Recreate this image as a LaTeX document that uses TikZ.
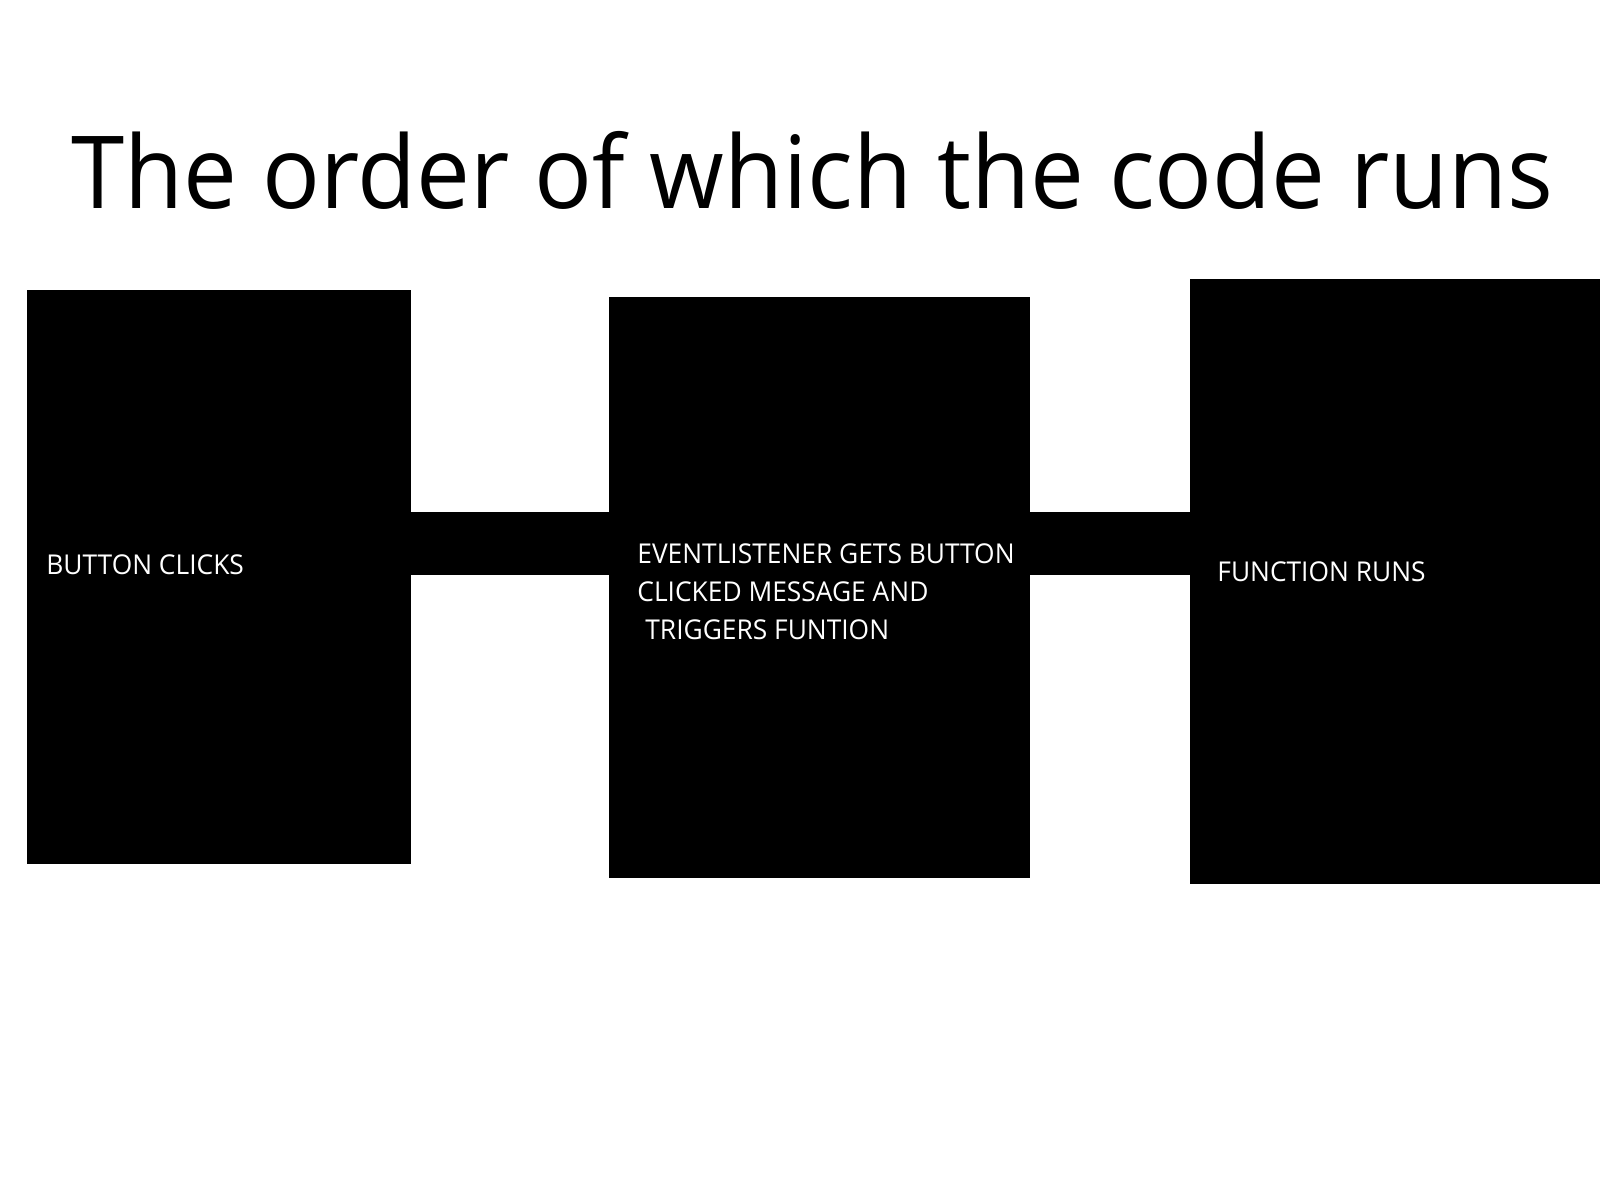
\documentclass[tikz,border=0pt]{standalone}
\usepackage{fontspec}
\setmainfont{Open Sans}
\newcommand{\narrowlbl}[1]{\scalebox{0.965}[1]{#1}}
\begin{document}
\begin{tikzpicture}[x=0.5pt,y=-0.5pt,
  blk/.style={fill=black,draw=none,inner sep=0pt,rectangle},
  bar/.style={line width=31.5pt,black},
  lbl/.style={text=white,inner sep=0pt,anchor=base west,font=\fontsize{13.65pt}{19pt}\selectfont},
  ttl/.style={inner sep=0pt,anchor=base west,font=\fontsize{50.4pt}{60pt}\selectfont}]
\useasboundingbox[fill=white] (0,0) rectangle (1600,1200);
\node[ttl] (title) at (71,208) {\resizebox{741pt}{\height}{The order of which the code runs}};
\node[blk,minimum width=192pt,minimum height=287pt] (b1) at (219,577) {};
\node[blk,minimum width=210.5pt,minimum height=290.5pt] (b2) at (819.5,587.5) {};
\node[blk,minimum width=205pt,minimum height=302.5pt] (b3) at (1395,581.5) {};
\draw[bar] (b1.east |- 0,543.5) -- (b2.west |- 0,543.5);
\draw[bar] (b2.east |- 0,543.5) -- (b3.west |- 0,543.5);
\node[lbl] (t1) at (46,574) {\narrowlbl{BUTTON CLICKS}};
\node[lbl] (m1) at (637,563) {\narrowlbl{EVENTLISTENER GETS BUTTON}};
\node[lbl] (m2) at (637,601) {\narrowlbl{CLICKED MESSAGE AND}};
\node[lbl] (m3) at (645,639) {\narrowlbl{TRIGGERS FUNTION}};
\node[lbl] (t3) at (1217,581) {\narrowlbl{FUNCTION RUNS}};
\end{tikzpicture}
\end{document}
